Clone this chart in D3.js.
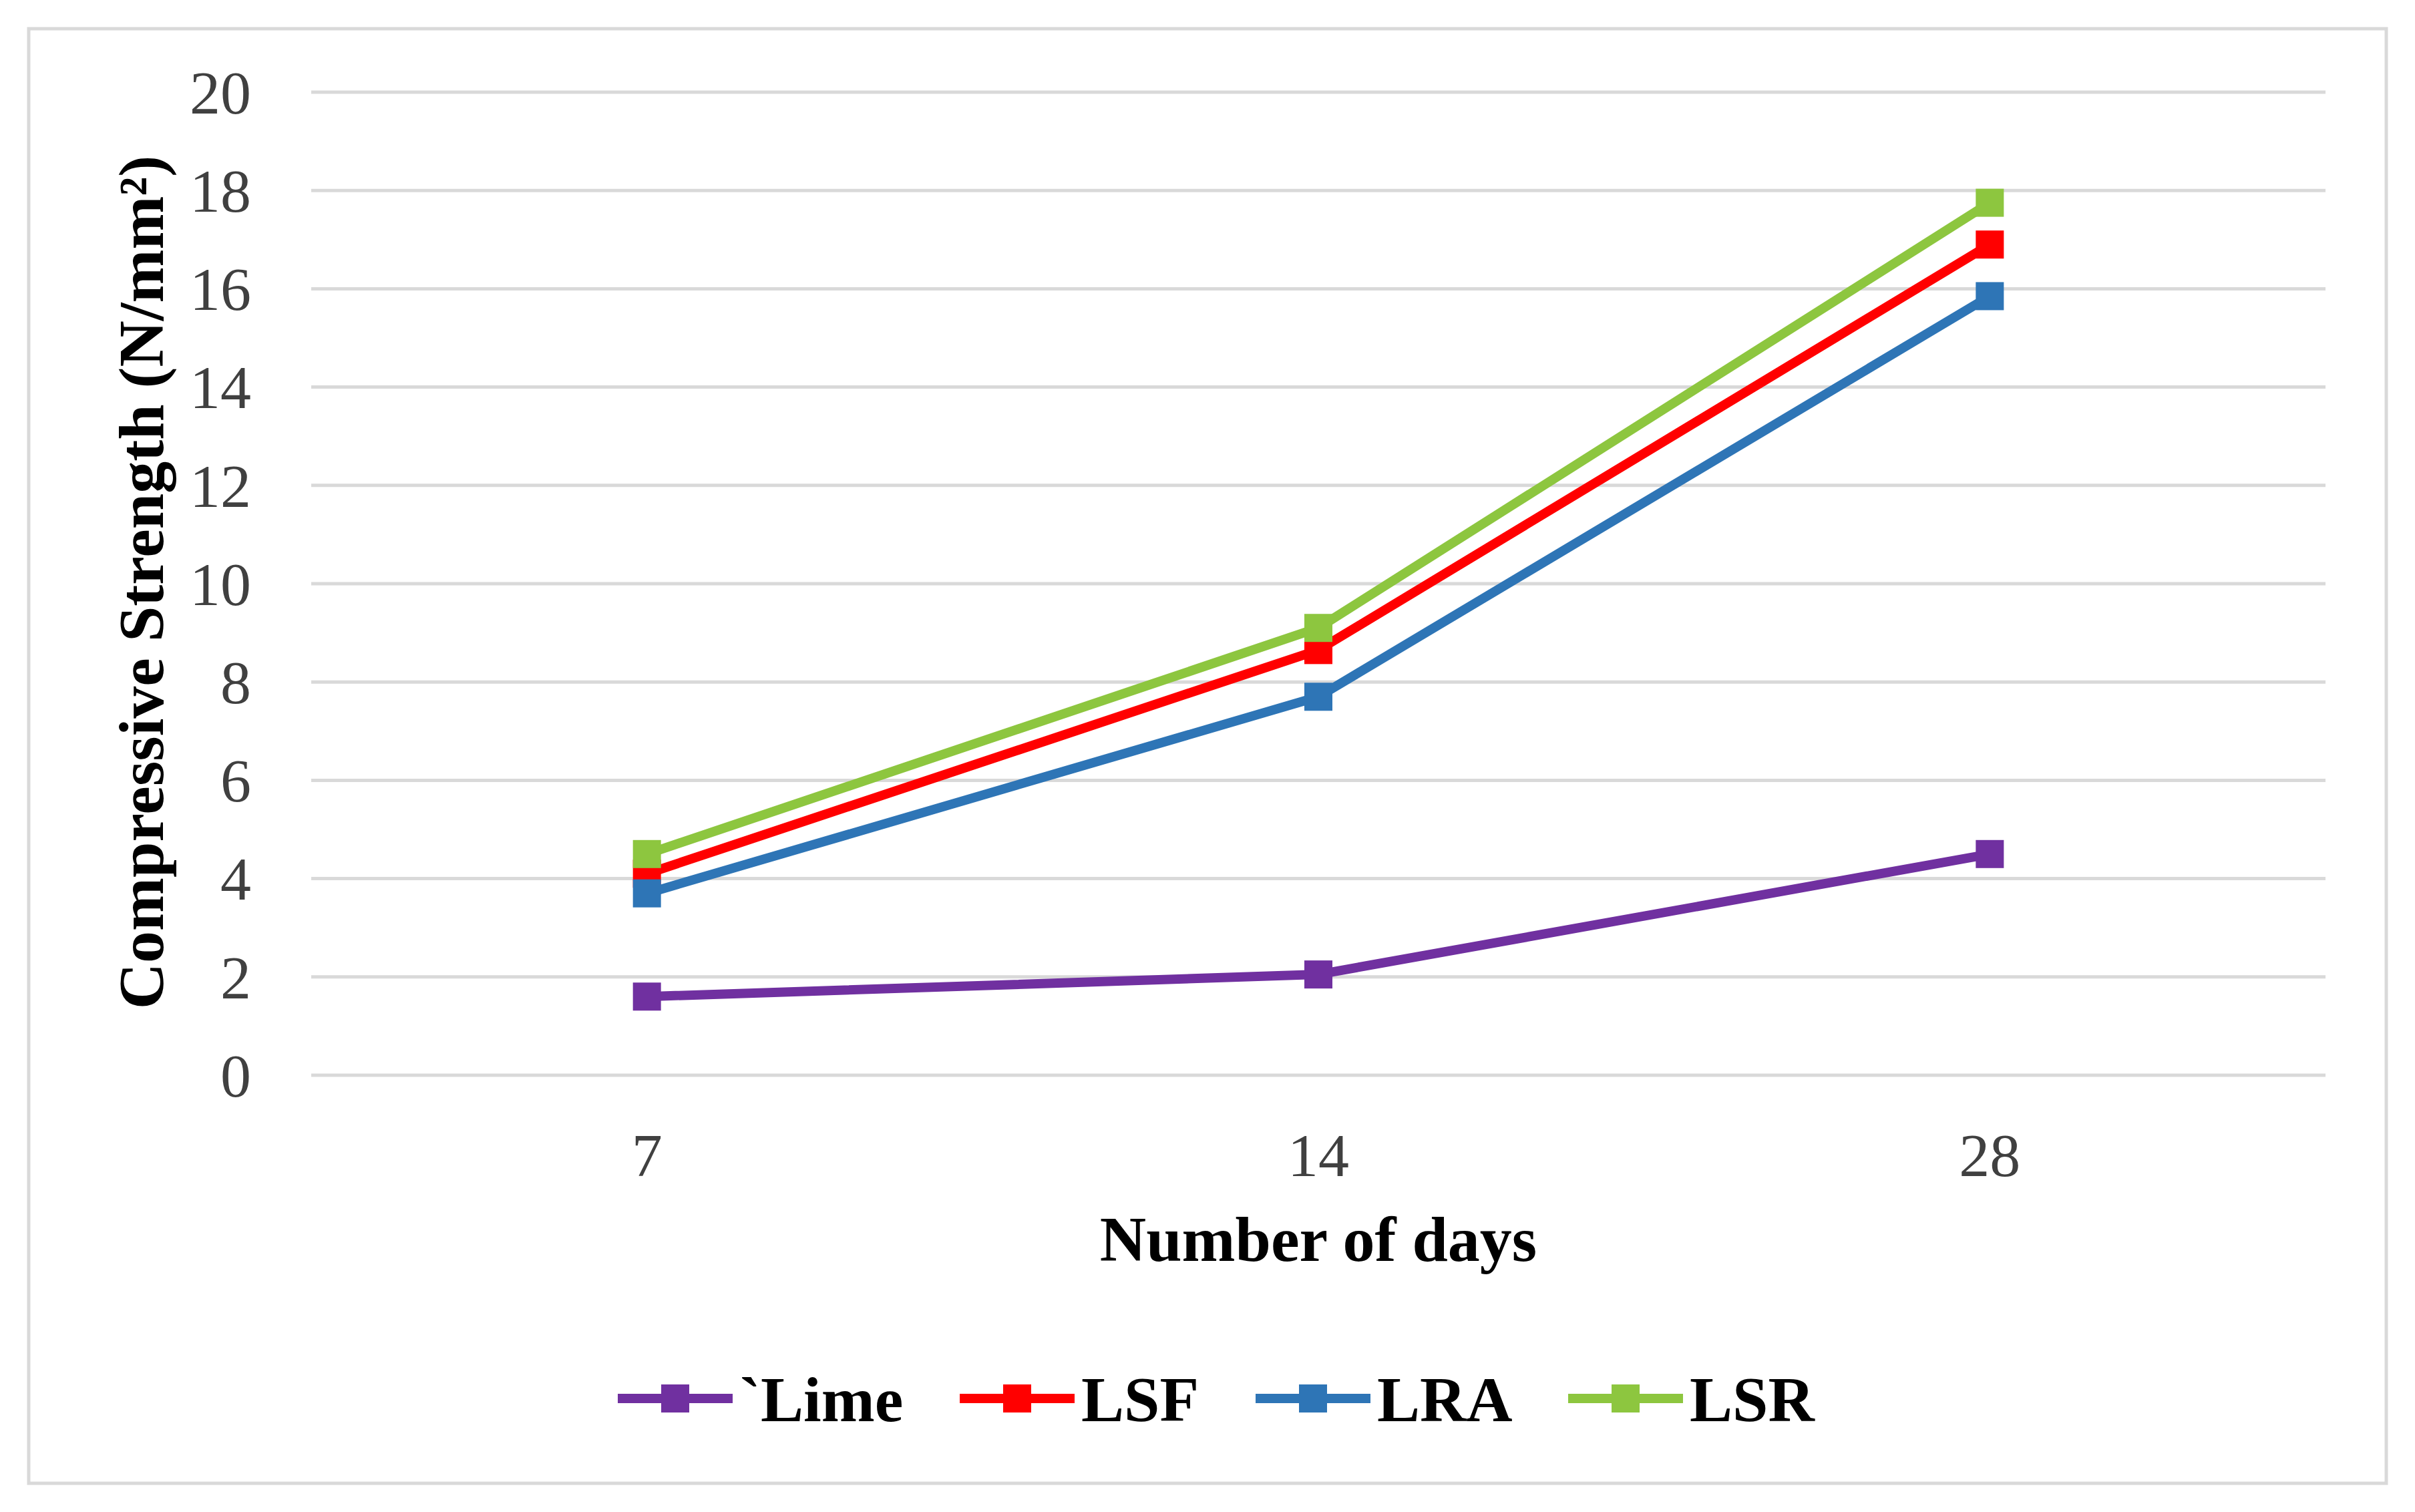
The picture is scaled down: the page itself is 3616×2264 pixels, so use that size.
<!DOCTYPE html>
<html lang="en">
<head>
  <meta charset="UTF-8">
  <title>Compressive Strength</title>
  <script src="https://cdn.jsdelivr.net/npm/d3@7"></script>
  <style>
    html, body { margin: 0; padding: 0; background: #fff; }
    svg { display: block; }
  </style>
</head>
<body>
  <div id="chart"></div>
  <script>
    const days = ['7', '14', '28'];
    const seriesNames = ['`Lime', 'LSF', 'LRA', 'LSR'];
    const seriesColors = ['#7030a0', '#ff0000', '#2e75b6', '#8dc63f'];
    const limeValues = [1.6, 2.05, 4.5];
    const lsfValues = [4.1, 8.65, 16.9];
    const lraValues = [3.7, 7.7, 15.85];
    const lsrValues = [4.5, 9.1, 17.75];
    const yTicks = [0, 2, 4, 6, 8, 10, 12, 14, 16, 18, 20];

    const W = 3616, H = 2264;
    const margin = {left: 466, right: 134, top: 138, bottom: 654};

    const svg = d3.select('#chart').append('svg')
      .attr('width', W).attr('height', H);

    // outer frame
    svg.append('rect')
      .attr('x', 43).attr('y', 43)
      .attr('width', W - 86).attr('height', H - 86)
      .attr('fill', '#fff').attr('stroke', '#d9d9d9').attr('stroke-width', 5);

    const x = d3.scaleBand().domain(days)
      .range([margin.left, W - margin.right]);
    const y = d3.scaleLinear().domain([0, 20])
      .range([H - margin.bottom, margin.top]);

    // gridlines
    svg.append('g').selectAll('line').data(yTicks).join('line')
      .attr('x1', margin.left).attr('x2', W - margin.right)
      .attr('y1', d => y(d)).attr('y2', d => y(d))
      .attr('stroke', '#d9d9d9').attr('stroke-width', 5);

    // y axis labels
    const yAxis = svg.append('g')
      .attr('transform', `translate(${margin.left - 90},0)`)
      .call(d3.axisLeft(y).tickValues(yTicks).tickSize(0).tickPadding(0));
    yAxis.select('.domain').remove();
    yAxis.selectAll('text')
      .attr('font-family', 'Liberation Serif')
      .attr('font-size', 92).attr('fill', '#404040')
      .attr('dy', '0.34em');

    // x axis labels
    const xAxis = svg.append('g')
      .attr('transform', `translate(0,${H - margin.bottom + 86})`)
      .call(d3.axisBottom(x).tickSize(0).tickPadding(0));
    xAxis.select('.domain').remove();
    xAxis.selectAll('text')
      .attr('font-family', 'Liberation Serif')
      .attr('font-size', 92).attr('fill', '#404040')
      .attr('dy', '0.71em');

    // axis titles
    svg.append('text')
      .attr('x', x('14') + x.bandwidth() / 2).attr('y', 1888)
      .attr('text-anchor', 'middle')
      .attr('font-family', 'Liberation Serif').attr('font-weight', 'bold')
      .attr('font-size', 96).attr('fill', '#000')
      .text('Number of days');

    svg.append('text')
      .attr('transform', `translate(244,872) rotate(-90)`)
      .attr('text-anchor', 'middle')
      .attr('font-family', 'Liberation Serif').attr('font-weight', 'bold')
      .attr('font-size', 96).attr('fill', '#000')
      .text('Compressive Strength (N/mm²)');

    // series
    const allValues = [limeValues, lsfValues, lraValues, lsrValues];
    const series = seriesNames.map((name, i) => ({
      name, color: seriesColors[i],
      points: days.map((d, j) => ({day: d, value: allValues[i][j]}))
    }));

    const line = d3.line()
      .x(d => x(d.day) + x.bandwidth() / 2)
      .y(d => y(d.value));

    const ms = 42;
    const g = svg.append('g').selectAll('g').data(series).join('g');
    g.append('path')
      .attr('d', d => line(d.points))
      .attr('fill', 'none').attr('stroke', d => d.color)
      .attr('stroke-width', 14).attr('stroke-linejoin', 'round');
    g.selectAll('rect').data(d => d.points.map(p => ({...p, color: d.color}))).join('rect')
      .attr('x', d => x(d.day) + x.bandwidth() / 2 - ms / 2)
      .attr('y', d => y(d.value) - ms / 2)
      .attr('width', ms).attr('height', ms)
      .attr('fill', d => d.color);

    // legend
    const legendX = [925, 1437, 1880, 2348];
    const legendY = 2094;
    const leg = svg.append('g').selectAll('g').data(series).join('g')
      .attr('transform', (d, i) => `translate(${legendX[i]},${legendY})`);
    leg.append('line')
      .attr('x1', 0).attr('x2', 172).attr('y1', 0).attr('y2', 0)
      .attr('stroke', d => d.color).attr('stroke-width', 14);
    leg.append('rect')
      .attr('x', 86 - ms / 2).attr('y', -ms / 2)
      .attr('width', ms).attr('height', ms)
      .attr('fill', d => d.color);
    leg.append('text')
      .attr('x', 182).attr('y', 0).attr('dy', '0.35em')
      .attr('font-family', 'Liberation Serif').attr('font-weight', 'bold')
      .attr('font-size', 96).attr('fill', '#000')
      .text(d => d.name);
  </script>
</body>
</html>
